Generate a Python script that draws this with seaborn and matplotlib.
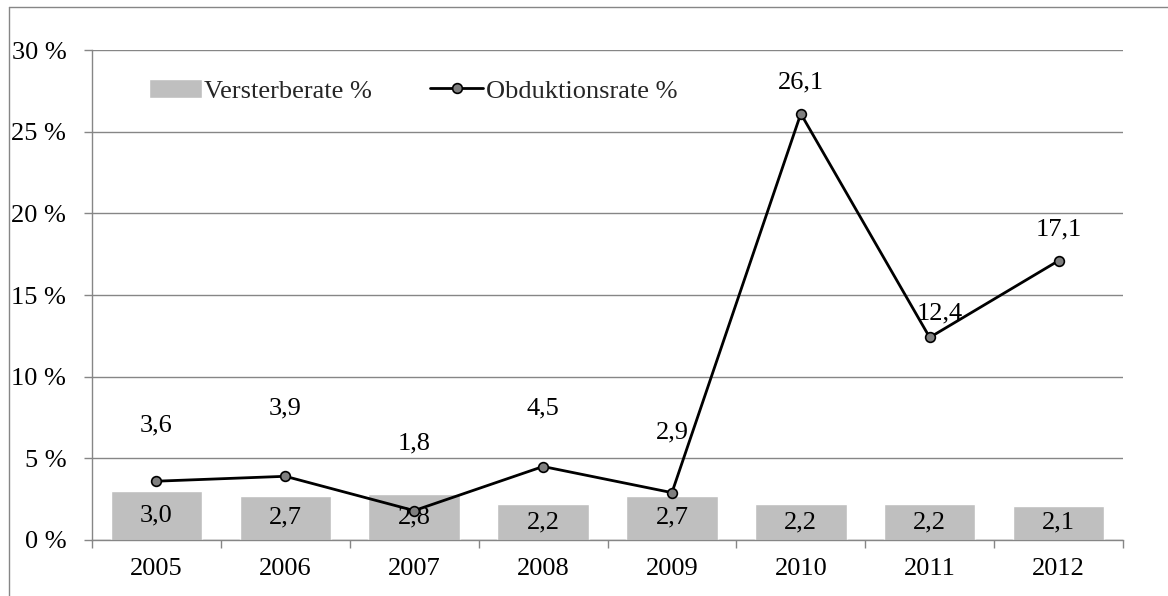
import numpy as np
import pandas as pd
import matplotlib
matplotlib.use("Agg")
import matplotlib.pyplot as plt
from matplotlib.lines import Line2D
from matplotlib.ticker import FixedLocator, FuncFormatter
import seaborn as sns

# Data
years = ["2005", "2006", "2007", "2008", "2009", "2010", "2011", "2012"]
versterberate = [3.0, 2.7, 2.8, 2.2, 2.7, 2.2, 2.2, 2.1]
obduktionsrate = [3.6, 3.9, 1.8, 4.5, 2.9, 26.1, 12.4, 17.1]
y_ticks = [0, 5, 10, 15, 20, 25, 30]

# label offsets above the line markers (pixels)
label_dy = [56, 68, 67, 58, 60, 31, 24, 31]
label_dx = [0, 0, 0, 0, 0, 0, 10, 0]

sns.set_theme(style="white")
plt.rcParams["font.family"] = ["Liberation Serif", "DejaVu Serif"]

GRID = "#868686"
BAR = "#BFBFBF"
FS = 19

df = pd.DataFrame({"Jahr": years, "Versterberate": versterberate,
                   "Obduktionsrate": obduktionsrate})

fig = plt.figure(figsize=(11.68, 5.96), dpi=100)
ax = fig.add_axes([92 / 1168, 1 - 540 / 596, (1123 - 92) / 1168, 490 / 596])

sns.barplot(data=df, x="Jahr", y="Versterberate", color=BAR, saturation=1,
            width=0.71, ax=ax, label="Versterberate %", zorder=2)
bars = ax.containers[0]
ax.bar_label(bars, labels=[f"{v:.1f}".replace(".", ",") for v in versterberate],
             label_type="center", fontsize=FS, color="black")

sns.lineplot(data=df, x="Jahr", y="Obduktionsrate", color="black", lw=2,
             marker="o", markersize=7, markerfacecolor="#7F7F7F",
             markeredgecolor="black", markeredgewidth=1.2,
             label="Obduktionsrate %", ax=ax, zorder=4)

for i, v in enumerate(obduktionsrate):
    ax.annotate(f"{v:.1f}".replace(".", ","), xy=(i, v),
                xytext=(label_dx[i] * 0.72, label_dy[i] * 0.72),
                textcoords="offset points", ha="center", va="center",
                fontsize=FS, color="black", zorder=5)

ax.set_ylim(0, 30)
ax.set_xlim(-0.5, len(years) - 0.5)
ax.yaxis.set_major_locator(FixedLocator(y_ticks))
ax.yaxis.set_major_formatter(FuncFormatter(lambda v, p: f"{v:.0f} %"))
ax.grid(axis="y", color=GRID, lw=1, zorder=0)
ax.set_axisbelow(True)
ax.set_xlabel("")
ax.set_ylabel("")

ax.set_xticks(np.arange(-0.5, len(years)), minor=True)
ax.tick_params(axis="x", which="major", length=0, pad=13, labelsize=FS,
               colors="black")
ax.tick_params(axis="x", which="minor", length=6, width=1, color=GRID,
               direction="out", bottom=True)
ax.tick_params(axis="y", which="major", length=5.5, width=1, color=GRID,
               direction="out", left=True, pad=13, labelsize=FS,
               labelcolor="black")

for s in ["top", "right"]:
    ax.spines[s].set_visible(False)
for s in ["left", "bottom"]:
    ax.spines[s].set_color(GRID)
    ax.spines[s].set_linewidth(1)

handles, labels = ax.get_legend_handles_labels()
order = [labels.index("Versterberate %"), labels.index("Obduktionsrate %")]
ax.legend([handles[k] for k in order], [labels[k] for k in order],
          loc="upper left", bbox_to_anchor=(0.045, 0.962), ncol=2,
          frameon=False, fontsize=FS, handlelength=2.0,
          handletextpad=0.1, columnspacing=2.2, borderaxespad=0)

# outer chart border
fig.add_artist(Line2D([9 / 1168, 9 / 1168], [0, 1 - 7 / 596], color=GRID,
                      lw=1, transform=fig.transFigure))
fig.add_artist(Line2D([9 / 1168, 1], [1 - 7 / 596, 1 - 7 / 596], color=GRID,
                      lw=1, transform=fig.transFigure))

fig.savefig("out.png", dpi=100, facecolor="white")
